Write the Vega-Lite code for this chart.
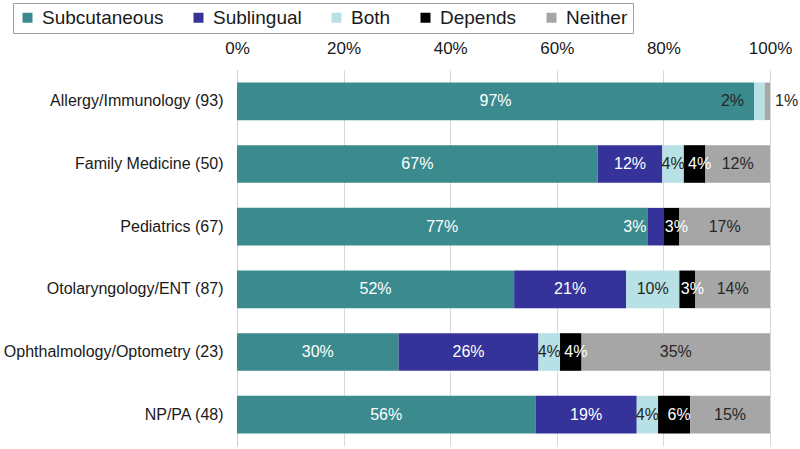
{
  "$schema": "https://vega.github.io/schema/vega-lite/v6.json",
  "autosize": {"type": "none"},
  "width": 533,
  "height": 376,
  "padding": {"left": 237, "top": 70, "right": 30, "bottom": 3},
  "background": "white",
  "config": {
    "font": "Liberation Sans",
    "view": {"stroke": null}
  },
  "data": {
    "values": [
      {"cat": "Allergy/Immunology (93)", "type": "Subcutaneous", "rank": 1, "pct": 0.97},
      {"cat": "Allergy/Immunology (93)", "type": "Sublingual", "rank": 2, "pct": 0},
      {"cat": "Allergy/Immunology (93)", "type": "Both", "rank": 3, "pct": 0.02},
      {"cat": "Allergy/Immunology (93)", "type": "Depends", "rank": 4, "pct": 0},
      {"cat": "Allergy/Immunology (93)", "type": "Neither", "rank": 5, "pct": 0.01},
      {"cat": "Family Medicine (50)", "type": "Subcutaneous", "rank": 1, "pct": 0.67},
      {"cat": "Family Medicine (50)", "type": "Sublingual", "rank": 2, "pct": 0.12},
      {"cat": "Family Medicine (50)", "type": "Both", "rank": 3, "pct": 0.04},
      {"cat": "Family Medicine (50)", "type": "Depends", "rank": 4, "pct": 0.04},
      {"cat": "Family Medicine (50)", "type": "Neither", "rank": 5, "pct": 0.12},
      {"cat": "Pediatrics (67)", "type": "Subcutaneous", "rank": 1, "pct": 0.77},
      {"cat": "Pediatrics (67)", "type": "Sublingual", "rank": 2, "pct": 0.03},
      {"cat": "Pediatrics (67)", "type": "Both", "rank": 3, "pct": 0},
      {"cat": "Pediatrics (67)", "type": "Depends", "rank": 4, "pct": 0.03},
      {"cat": "Pediatrics (67)", "type": "Neither", "rank": 5, "pct": 0.17},
      {"cat": "Otolaryngology/ENT (87)", "type": "Subcutaneous", "rank": 1, "pct": 0.52},
      {"cat": "Otolaryngology/ENT (87)", "type": "Sublingual", "rank": 2, "pct": 0.21},
      {"cat": "Otolaryngology/ENT (87)", "type": "Both", "rank": 3, "pct": 0.10},
      {"cat": "Otolaryngology/ENT (87)", "type": "Depends", "rank": 4, "pct": 0.03},
      {"cat": "Otolaryngology/ENT (87)", "type": "Neither", "rank": 5, "pct": 0.14},
      {"cat": "Ophthalmology/Optometry (23)", "type": "Subcutaneous", "rank": 1, "pct": 0.30},
      {"cat": "Ophthalmology/Optometry (23)", "type": "Sublingual", "rank": 2, "pct": 0.26},
      {"cat": "Ophthalmology/Optometry (23)", "type": "Both", "rank": 3, "pct": 0.04},
      {"cat": "Ophthalmology/Optometry (23)", "type": "Depends", "rank": 4, "pct": 0.04},
      {"cat": "Ophthalmology/Optometry (23)", "type": "Neither", "rank": 5, "pct": 0.35},
      {"cat": "NP/PA (48)", "type": "Subcutaneous", "rank": 1, "pct": 0.56},
      {"cat": "NP/PA (48)", "type": "Sublingual", "rank": 2, "pct": 0.19},
      {"cat": "NP/PA (48)", "type": "Both", "rank": 3, "pct": 0.04},
      {"cat": "NP/PA (48)", "type": "Depends", "rank": 4, "pct": 0.06},
      {"cat": "NP/PA (48)", "type": "Neither", "rank": 5, "pct": 0.15}
    ]
  },
  "encoding": {
    "y": {
      "field": "cat", "type": "nominal", "sort": null, "title": null,
      "scale": {"paddingInner": 0.4, "paddingOuter": 0.2},
      "axis": {"ticks": false, "labelFontSize": 16, "labelColor": "#1a1a1a", "labelPadding": 14, "domainColor": "#d0d0d0", "labelLimit": 300}
    },
    "x": {
      "field": "pct", "type": "quantitative", "stack": "normalize", "title": null,
      "axis": {"orient": "top", "format": ".0%", "values": [0, 0.2, 0.4, 0.6, 0.8, 1], "ticks": false, "domain": false, "labelFontSize": 17, "labelColor": "#1a1a1a", "labelPadding": 13, "gridColor": "#d9d9d9", "labelFlush": false}
    },
    "order": {"field": "rank", "type": "quantitative"}
  },
  "layer": [
    {
      "mark": {"type": "bar"},
      "encoding": {
        "color": {
          "field": "type", "type": "nominal", "title": null,
          "scale": {
            "domain": ["Subcutaneous", "Sublingual", "Both", "Depends", "Neither"],
            "range": ["#3b8b8e", "#35339a", "#b7e1e4", "#000000", "#a6a6a6"]
          },
          "legend": {
            "orient": "none", "legendX": -224, "legendY": -67,
            "direction": "horizontal", "columns": 5,
            "symbolType": "square", "symbolSize": 100, "symbolStrokeWidth": 0,
            "labelFontSize": 19, "labelColor": "#1a1a1a", "labelOffset": 5,
            "columnPadding": 25, "padding": 5,
            "strokeColor": "#a0a0a0", "fillColor": "white"
          }
        }
      }
    },
    {
      "mark": {"type": "text", "fontSize": 16, "baseline": "middle", "align": "center"},
      "encoding": {
        "x": {"field": "pct", "type": "quantitative", "stack": "normalize", "bandPosition": 0.5},
        "text": {
          "condition": {"test": "datum.pct >= 0.03 && datum.type !== 'Depends' && !(datum.type === 'Sublingual' && datum.pct < 0.05)", "field": "pct", "type": "quantitative", "format": ".0%"},
          "value": ""
        },
        "color": {
          "condition": {"test": "datum.type === 'Both' || datum.type === 'Neither'", "value": "#262626"},
          "value": "white"
        }
      }
    },
    {
      "mark": {"type": "text", "fontSize": 16, "baseline": "middle", "align": "center", "dx": 5, "color": "white"},
      "encoding": {
        "x": {"field": "pct", "type": "quantitative", "stack": "normalize", "bandPosition": 0.5},
        "text": {
          "condition": {"test": "datum.type === 'Depends' && datum.pct > 0", "field": "pct", "type": "quantitative", "format": ".0%"},
          "value": ""
        }
      }
    },
    {
      "mark": {"type": "text", "fontSize": 16, "baseline": "middle", "align": "right", "dx": -1, "color": "white"},
      "encoding": {
        "x": {"field": "pct", "type": "quantitative", "stack": "normalize", "bandPosition": 0},
        "text": {
          "condition": {"test": "datum.type === 'Sublingual' && datum.pct > 0 && datum.pct < 0.05", "field": "pct", "type": "quantitative", "format": ".0%"},
          "value": ""
        }
      }
    },
    {
      "mark": {"type": "text", "fontSize": 16, "baseline": "middle", "align": "right", "dx": -10, "color": "#262626"},
      "encoding": {
        "x": {"field": "pct", "type": "quantitative", "stack": "normalize", "bandPosition": 0},
        "text": {
          "condition": {"test": "datum.type === 'Both' && datum.pct > 0 && datum.pct < 0.03", "field": "pct", "type": "quantitative", "format": ".0%"},
          "value": ""
        }
      }
    },
    {
      "mark": {"type": "text", "fontSize": 16, "baseline": "middle", "align": "left", "dx": 5, "color": "#262626"},
      "encoding": {
        "x": {"field": "pct", "type": "quantitative", "stack": "normalize", "bandPosition": 1},
        "text": {
          "condition": {"test": "datum.type === 'Neither' && datum.pct > 0 && datum.pct < 0.03", "field": "pct", "type": "quantitative", "format": ".0%"},
          "value": ""
        }
      }
    }
  ]
}
